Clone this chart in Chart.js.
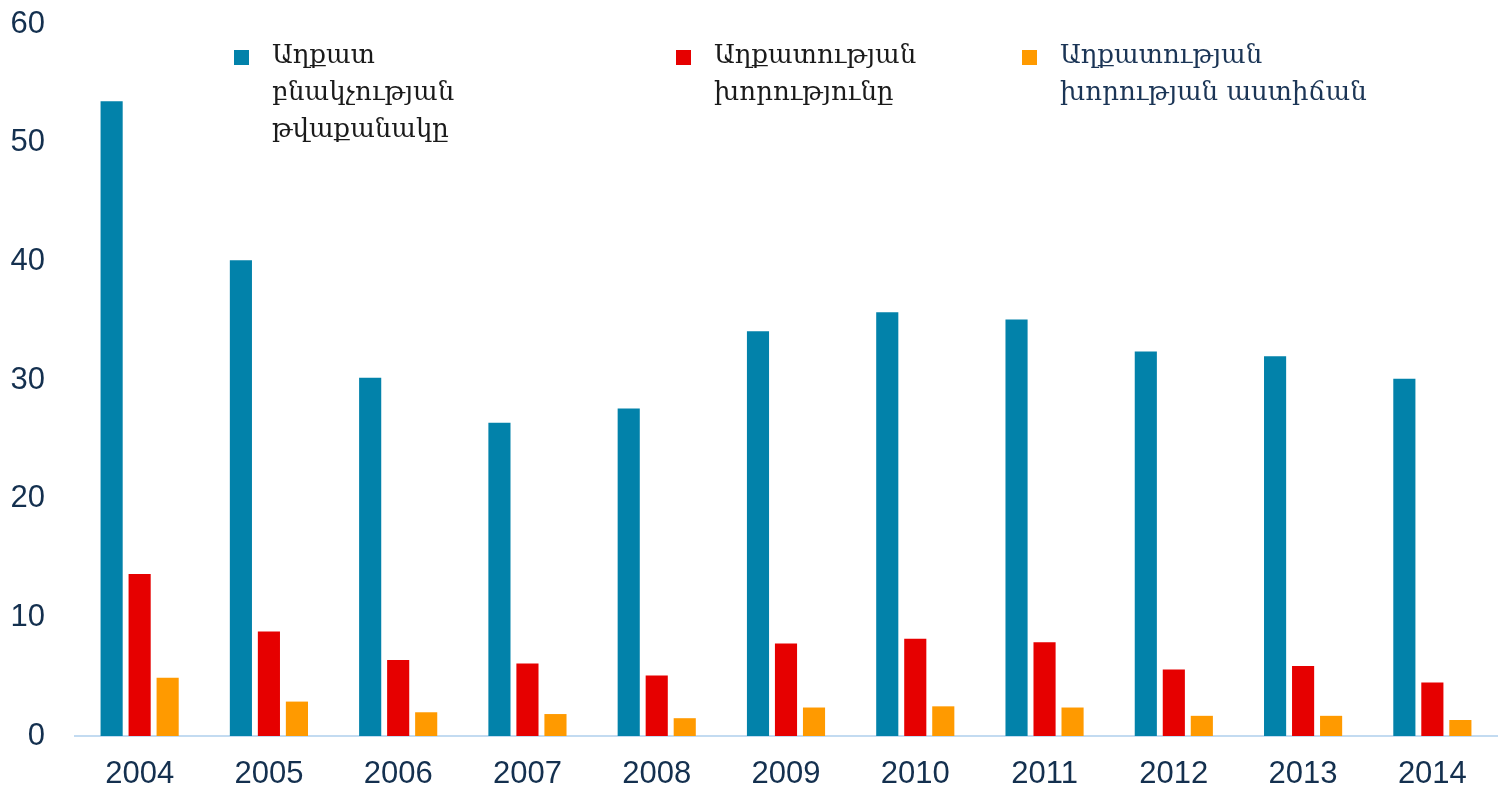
<!DOCTYPE html>
<html>
<head>
<meta charset="utf-8">
<script src="https://cdn.jsdelivr.net/npm/chart.js@4/dist/chart.umd.min.js"></script>
<style>
html,body{margin:0;padding:0;background:#fff;}
#wrap{width:1499px;height:793px;position:relative;}
</style>
</head>
<body>
<div id="wrap"><canvas id="c"></canvas></div>
<script>
const years = ['2004','2005','2006','2007','2008','2009','2010','2011','2012','2013','2014'];
const povertyRate = [53.5,40.1,30.2,26.4,27.6,34.1,35.7,35.1,32.4,32.0,30.1];
const povertyDepth = [13.65,8.8,6.4,6.1,5.1,7.8,8.2,7.9,5.6,5.9,4.5];
const povertySeverity = [4.9,2.9,2.0,1.85,1.5,2.4,2.5,2.4,1.7,1.7,1.35];
const seriesNames = [
  ['Աղքատ','բնակչության','թվաքանակը'],
  ['Աղքատության','խորությունը'],
  ['Աղքատության','խորության աստիճան']
];
const yTicks = [0,10,20,30,40,50,60];

const colors = ['#0282aa','#e60000','#ff9a00'];
const legendX = [234,676,1022];
const legendText = ['#1a1a1a','#1a1a1a','#1b3556'];

const legendPlugin = {
  id:'customLegend',
  afterDraw(chart){
    const ctx = chart.ctx;
    ctx.save();
    chart.data.datasets.forEach((ds,i)=>{
      const x = legendX[i];
      ctx.fillStyle = ds.backgroundColor;
      ctx.fillRect(x,50,15,15);
      ctx.fillStyle = legendText[i];
      ctx.font = '26px "DejaVu Serif", serif';
      ctx.textBaseline = 'middle';
      ctx.textAlign = 'left';
      ds.label.forEach((line,j)=>{
        ctx.fillText(line, x+38, 56 + j*37);
      });
    });
    ctx.restore();
  }
};

new Chart(document.getElementById('c'),{
  type:'bar',
  data:{
    labels: years,
    datasets:[
      {label:seriesNames[0], data:povertyRate, backgroundColor:colors[0]},
      {label:seriesNames[1], data:povertyDepth, backgroundColor:colors[1]},
      {label:seriesNames[2], data:povertySeverity, backgroundColor:colors[2]}
    ]
  },
  options:{
    responsive:true,
    maintainAspectRatio:false,
    animation:false,
    layout:{padding:{top:24,right:2,left:0,bottom:0}},
    plugins:{legend:{display:false},tooltip:{enabled:false}},
    datasets:{bar:{categoryPercentage:0.65,barPercentage:0.79}},
    scales:{
      x:{
        afterFit(scale){scale.height = 57; scale.paddingLeft = 0; scale.paddingRight = 0;},
        grid:{display:false,drawTicks:false},
        border:{display:true,color:'#c3dbf1',width:2},
        ticks:{color:'#14304f',font:{family:'"Liberation Sans", Arial, sans-serif',size:31},padding:20}
      },
      y:{
        min:0,max:60,
        afterBuildTicks(scale){scale.ticks = yTicks.map(v=>({value:v}));},
        afterFit(scale){scale.width = 75; scale.paddingTop = 0; scale.paddingBottom = 0;},
        grid:{display:false,drawTicks:false},
        border:{display:false},
        ticks:{color:'#14304f',font:{family:'"Liberation Sans", Arial, sans-serif',size:31},padding:30}
      }
    }
  },
  plugins:[legendPlugin]
});
</script>
</body>
</html>
